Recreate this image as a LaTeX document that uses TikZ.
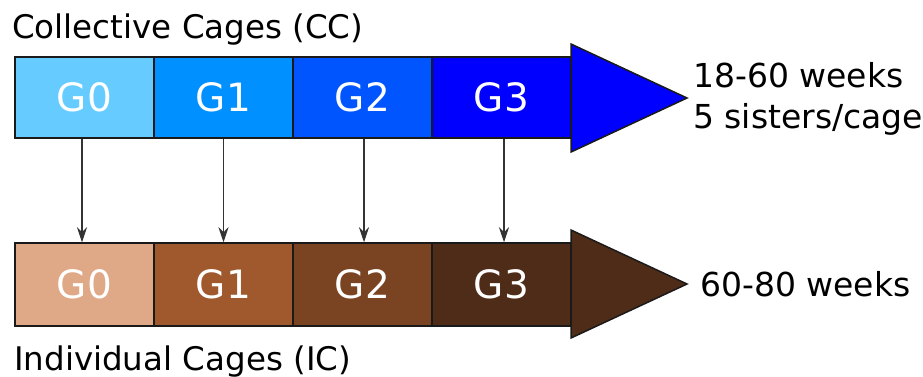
\documentclass[tikz,border=0pt]{standalone}
\usepackage{fontspec}
\setmainfont{DejaVu Sans}
\usetikzlibrary{arrows.meta}
\definecolor{cA}{HTML}{66CCFF}
\definecolor{cB}{HTML}{0090FF}
\definecolor{cC}{HTML}{0055FF}
\definecolor{cD}{HTML}{0000FF}
\definecolor{bA}{HTML}{DFA886}
\definecolor{bB}{HTML}{A0592D}
\definecolor{bC}{HTML}{7A4422}
\definecolor{bD}{HTML}{4F2C17}
\definecolor{edge}{HTML}{1A1A1A}
\begin{document}
\begin{tikzpicture}[x=1pt,y=-1pt,
  cell/.style={draw=edge,line width=1.5pt,minimum width=139pt,inner sep=0pt,
    text=white,font=\fontsize{39}{43}\selectfont},
  topcell/.style={cell,minimum height=81pt},
  botcell/.style={cell,minimum height=83pt},
  head/.style={draw=edge,line width=1.5pt,line join=miter},
  lbl/.style={anchor=base west,inner sep=0pt,font=\fontsize{32.5}{36}\selectfont},
  side/.style={anchor=base west,inner sep=0pt,font=\fontsize{33}{40}\selectfont},
  link/.style={draw=black!80,line width=1.2pt,-{Stealth[length=15pt,width=10pt,inset=5pt]}}
]
\useasboundingbox (0,0) rectangle (923,376);
% top row
\draw[head,fill=cD] (571,44) -- (687,98) -- (571,152) -- cycle;
\node[topcell,fill=cA] (c0) at (84.5,97.5) {G0};
\node[topcell,fill=cB] (c1) at (223.5,97.5) {G1};
\node[topcell,fill=cC] (c2) at (362.5,97.5) {G2};
\node[topcell,fill=cD] (c3) at (501.5,97.5) {G3};
% bottom row
\draw[head,fill=bD] (571,230) -- (687,284) -- (571,338) -- cycle;
\node[botcell,fill=bA] (i0) at (84.5,284.5) {G0};
\node[botcell,fill=bB] (i1) at (223.5,284.5) {G1};
\node[botcell,fill=bC] (i2) at (362.5,284.5) {G2};
\node[botcell,fill=bD] (i3) at (501.5,284.5) {G3};
% labels
\node[lbl] (tt) at (12,38) {Collective Cages (CC)};
\node[lbl] (bt) at (14,370) {Individual Cages (IC)};
\node[side] (s1) at (693,87) {18-60 weeks};
\node[side] (s2) at (693,128) {5 sisters/cage};
\node[side] (s3) at (700,296) {60-80 weeks};
% links
\draw[link] ([xshift=-2.5pt]c0.south) -- ([xshift=-2.5pt]i0.north);
\draw[link] (c1.south) -- (i1.north);
\draw[link] ([xshift=1.5pt]c2.south) -- ([xshift=1.5pt]i2.north);
\draw[link] ([xshift=2.5pt]c3.south) -- ([xshift=2.5pt]i3.north);
\end{tikzpicture}
\end{document}
